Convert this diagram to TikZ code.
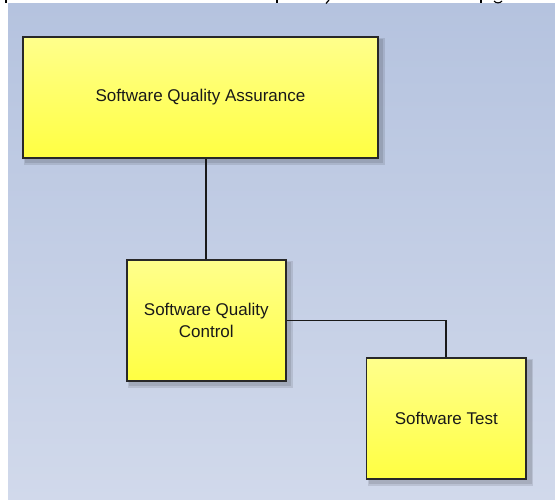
\documentclass[tikz,border=0pt]{standalone}
\usepackage{fontspec}
\setmainfont{Liberation Sans}
\usetikzlibrary{backgrounds}
\definecolor{bgtop}{RGB}{181,195,223}
\definecolor{bgbot}{RGB}{209,217,235}
\definecolor{boxtop}{RGB}{255,255,140}
\definecolor{boxbot}{RGB}{255,255,66}
\definecolor{edge}{RGB}{40,40,40}
\tikzset{
  x=1pt, y=-1pt,
  block/.style={draw=edge, line width=1.7pt, rectangle, inner sep=0pt,
    top color=boxtop, bottom color=boxbot, align=center,
    font=\fontsize{17}{22}\selectfont, text=black!90},
  link/.style={line width=1.7pt, draw=black!90},
  softshadow/.style={fill=black, opacity=0.10},
}
% soft drop shadow below and right of a node
\newcommand{\shadowfor}[1]{%
  \fill[softshadow] ([xshift=2pt,yshift=-2pt]#1.north west) rectangle ([xshift=6pt,yshift=-6pt]#1.south east);
  \fill[softshadow] ([xshift=3pt,yshift=-3pt]#1.north west) rectangle ([xshift=4.5pt,yshift=-4.5pt]#1.south east);
}
\begin{document}
\begin{tikzpicture}
  \useasboundingbox (0,0) rectangle (555,500);

  % boxes
  \node[block, minimum width=355pt, minimum height=121pt] (sqa) at (200.5,97.2) {Software Quality Assurance};
  \node[block, minimum width=158.7pt, minimum height=121pt] (sqc) at (206.3,320.5) {Software Quality\\Control};
  \node[block, minimum width=159.7pt, minimum height=121pt] (st) at (446.3,418.2) {Software Test};

  % connectors
  \draw[link] (sqc.north) -- (sqc.north |- sqa.south);
  \draw[link] (sqc.east) -| (st.north);

  \begin{scope}[on background layer]
    % page background
    \fill[white] (0,0) rectangle (555,500);
    \shade[top color=bgtop, bottom color=bgbot] (8,4) rectangle (555,500);
    % cut-off descenders of the line above
    \fill[black] (5,0) rectangle (7,3);
    \fill[black] (276,0) rectangle (278,3);
    \draw[black, line width=1.2pt] (329,0) -- (326,3.5);
    \fill[black] (480,0) rectangle (482,3);
    \draw[black, line width=1.1pt] (494,1) .. controls (496,3.5) and (500,3.5) .. (502,1);
    % shadows
    \shadowfor{sqa}
    \shadowfor{sqc}
    \shadowfor{st}
  \end{scope}
\end{tikzpicture}
\end{document}
